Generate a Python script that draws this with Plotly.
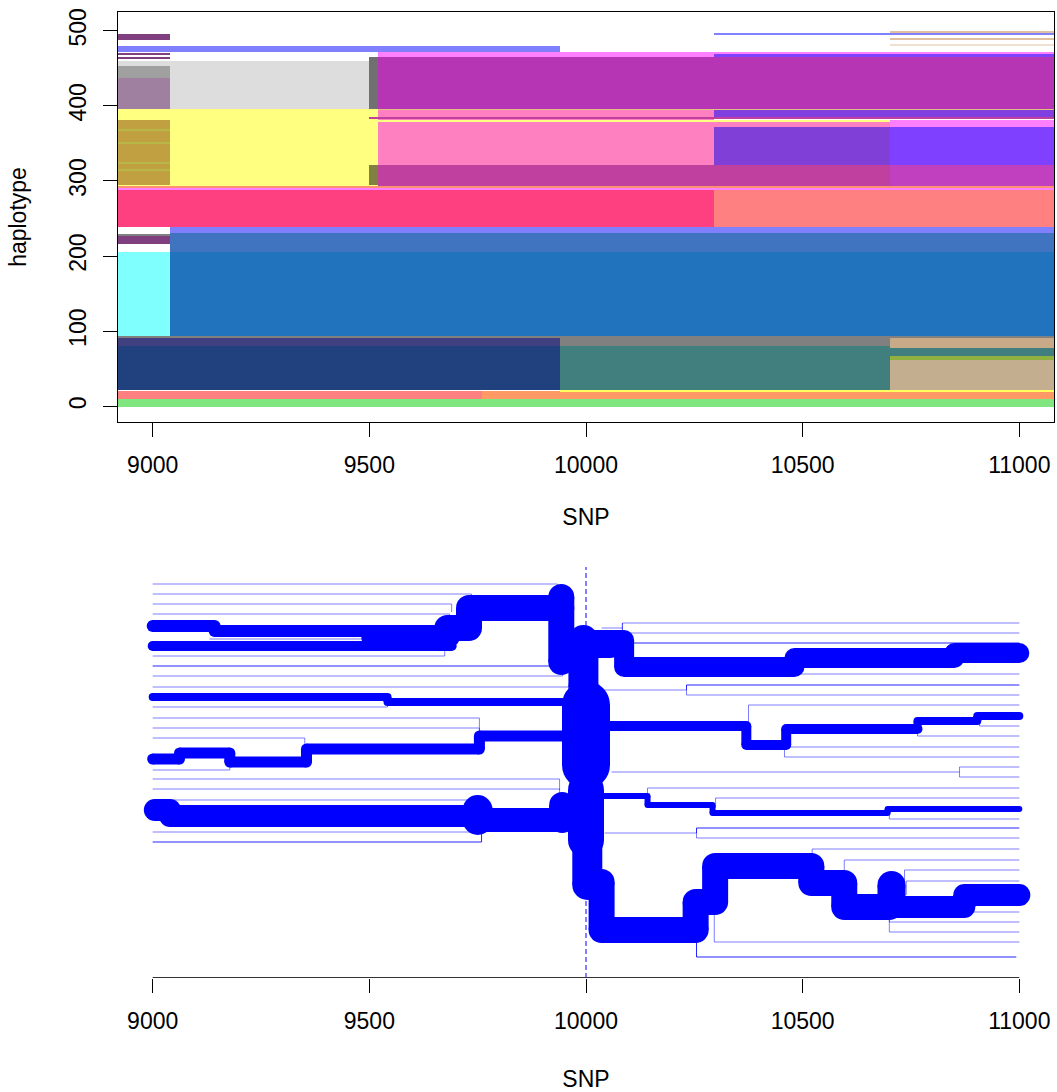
import plotly.graph_objects as go

# ---------------- top panel: haplotype painting (SNP range x haplotype range) -------------
L, R = 8920, 11080
rect_x0 = [L, L, 9760, 9940, L, L, 9940, 9940, 10702, 10702, 10702, 10702, L,
           L, 9040, 9040, 9040, L, L,
           L, 10296, L, L,
           L, L, L, L, L, L, 9500, 9520, 9520, 10702, 10296, 10702, 10296, 10702,
           9500, 9500, 10296, 9520,
           L, 9040, L, L, 9500, 9520, 9520, 10296, 10296,
           L, L, L, L, 10296, 10702, 10702, 10702]
rect_x1 = [R, 9760, R, R, 9940, 9940, 10702, 10702, R, R, R, R, R,
           9040, R, R, R, 9040, 9040,
           10296, R, R, R,
           9520, 9040, 9040, 9040, 9040, 9040, 9520, 10296, 10702, R, 10702, R, 10702, R,
           10702, R, R, R,
           9500, 9500, 9040, 9040, 9520, R, 10296, R, R,
           9940, 9040, 9040, 9040, R, R, R, R]
rect_y0 = [-1, 9.3, 9.3, 20, 21.3, 80, 21.3, 80, 21.3, 61, 67, 78, 92,
           93.5, 93.5, 205, 231, 216, 227,
           239, 239, 288, 291,
           293, 295, 314.5, 323.5, 350.5, 367.5, 295, 321, 293, 293, 321, 321, 372, 372,
           379.5, 383, 385, 395,
           396, 396, 396, 437, 396, 396, 465, 465, 470,
           472, 463.5, 469, 488, 495.5, 498, 488.5, 480]
rect_y1 = [9.3, 20, 20, 21.3, 80, 92, 80, 92, 61, 67, 78, 91, 93.5,
           205, 205, 231, 239, 227, 228.5,
           288, 288, 291, 293,
           396, 381, 316, 325, 352, 369, 321, 396, 321, 321, 372, 372, 381, 381,
           381, 385, 395, 396.5,
           460, 460, 437, 453, 465, 465, 472, 470, 472,
           480, 465, 470.5, 496, 497, 500, 490.5, 481.5]
rect_col = ['#80e680', '#ff8080', '#ff9966', '#ffff60', '#21407e', '#404080', '#417f7f', '#808080',
            '#c4ae90', '#90b040', '#417f7f', '#c8aa88', '#808080',
            '#80ffff', '#2173bd', '#4073c0', '#8080ff', '#804080', '#808080',
            '#ff4080', '#ff8080', '#ff80ff', '#ff9070',
            '#ffff80', '#c0a040', '#b8b848', '#b8b848', '#b8b848', '#b8b848', '#808040', '#ff80c0',
            '#c040a0', '#c040c0', '#8040d8', '#8040ff', '#ff80c0', '#ff80ff',
            '#ffff80', '#c040a0', '#8040e0', '#e0c080',
            '#dddddd', '#dddddd', '#a080a0', '#a0a0a0', '#707070', '#b535b5', '#ff80ff', '#8040ff', '#ff80ff',
            '#8080ff', '#804080', '#804080', '#804080', '#8080ff', '#e0c0a0', '#e0c0a0', '#f0e0d0']

# ---------------- bottom panel: bifurcation diagram (x = SNP, y = branch level) ----------
# thick shared branches: vertices and line width
path_x = [
    [9000, 9143, 9143, 9690], [9500, 9690], [9000, 9690],
    [9680, 9730, 9730, 9943], [9943, 9943],
    [9994, 9994], [10000, 10000], [10000, 10000], [10003, 10003],
    [9000, 9542, 9542, 9990],
    [9000, 9062, 9062, 9178, 9178, 9355, 9355, 9754, 9754, 9960],
    [9005, 9040, 9040, 9745], [9750, 9750], [9750, 9950], [9945, 9945],
    [10010, 10055], [10010, 10088, 10088, 10481, 10481, 10850, 10850, 11000],
    [10040, 10370, 10370, 10462, 10462, 10765], [10765, 10765, 10903, 10903, 11000],
    [10040, 10142, 10142, 10292, 10292, 10696, 10696, 11000],
    [10005, 10036, 10036, 10253, 10253, 10298, 10298, 10520, 10520, 10596, 10596, 10700],
    [10705, 10705], [10596, 10873, 10873, 11000], [10960, 11000],
]
path_y = [
    [354, 354, 349, 349], [342, 342], [334, 334],
    [352, 352, 372, 372], [383, 318],
    [340, 293], [275, 215], [190, 140], [140, 95],
    [283, 283, 278, 278],
    [221, 221, 227, 227, 218, 218, 231, 231, 244, 244],
    [170, 170, 164, 164], [170, 160], [160, 160], [175, 160],
    [336, 336], [340, 340, 313, 313, 322, 322, 327, 327],
    [254, 254, 235, 235, 251, 251], [251, 259, 259, 264, 264],
    [184, 184, 175, 175, 167, 167, 171, 171],
    [98, 98, 50, 50, 78, 78, 114, 114, 97, 97, 73, 73],
    [95, 78], [73, 73, 85, 85], [80, 80],
]
path_w = [12, 16, 10,
          26, 26,
          30, 48, 36, 30,
          8,
          11,
          22, 30, 24, 26,
          28, 20,
          10, 8,
          6,
          26,
          28, 22, 10]

# thin left branches: level, start SNP, end SNP, level joined at end
left_y = [396, 386, 376, 366, 341, 324, 314, 304, 293, 273, 262, 252, 242, 210, 201, 191, 180, 148, 138]
left_x0 = [9000, 9000, 9000, 9000, 9131, 9000, 9000, 9000, 9000, 9000, 9000, 9000, 9000, 9000, 9000,
           9000, 9000, 9000, 9000]
left_x1 = [9934, 9736, 9690, 9685, 9496, 9674, 9946, 9946, 9962, 9542, 9754, 9754, 9351, 9178, 9939,
           9939, 9731, 9759, 9759]
left_join = [383, 375, 368, 360, 334, 332, 320, 312, 290, 278, 244, 244, 232, 218, 190, 180, 168, 160, 160]
left_dark = [0, 0, 0, 0, 0, 0, 1, 0, 0, 0, 0, 0, 0, 0, 0, 0, 0, 0, 1]

# thin right branches: level, start SNP, end SNP, level joined at start
right_y = [357, 347, 352, 337, 306, 295, 285, 290, 275, 254, 244, 233, 223, 213, 203, 208, 192, 182,
           161, 152, 142, 147, 131, 120, 110, 99, 68, 58, 48, 38, 23]
right_x0 = [10084, 10084, 10036, 10084, 10481, 10232, 10232, 10031, 10375, 10908, 10765, 10462, 10458,
            10862, 10862, 10059, 10142, 10299, 10700, 10255, 10255, 10043, 10522, 10596, 10735, 10739,
            10862, 10700, 10700, 10296, 10255]
right_x1 = [11000, 11000, 10084, 11000, 11000, 11000, 11000, 10232, 11000, 11000, 11000, 11000, 11000,
            11000, 11000, 10862, 11000, 11000, 11000, 11000, 11000, 10255, 11000, 11000, 11000, 11000,
            11000, 11000, 11000, 11000, 10993]
right_join = [347, 357, 352, 335, 313, 290, 290, 290, 254, 259, 251, 235, 235, 208, 208, 208, 184, 172,
              167, 147, 147, 147, 114, 105, 100, 85, 75, 70, 70, 65, 50]
right_dark = [0, 0, 0, 1, 0, 1, 0, 0, 0, 0, 0, 0, 0, 0, 0, 0, 0, 0, 0, 1, 0, 0, 0, 0, 0, 0, 0, 0, 0, 0, 1]

core_snp = 10000
x_ticks = [9000, 9500, 10000, 10500, 11000]
x_ticktext = ["9000", "9500", "10000", "10500", "11000"]
y_ticks = [0, 100, 200, 300, 400, 500]
level_range = [2, 413]

FONT = dict(family="Liberation Sans, Arial, sans-serif", size=23, color="black")
BLUE = "#0000ff"

fig = go.Figure()

# top panel rectangles as horizontal bars
fig.add_trace(go.Bar(
    orientation="h",
    y=[(a + b) / 2 for a, b in zip(rect_y0, rect_y1)],
    x=[b - a for a, b in zip(rect_x0, rect_x1)],
    base=rect_x0,
    width=[b - a for a, b in zip(rect_y0, rect_y1)],
    marker=dict(color=rect_col, line=dict(width=0)),
    xaxis="x", yaxis="y", showlegend=False, hoverinfo="skip",
))

# bottom panel: dashed core line
fig.add_trace(go.Scatter(x=[core_snp, core_snp], y=level_range, mode="lines",
                         line=dict(color=BLUE, width=1, dash="5px,3px"),
                         xaxis="x2", yaxis="y2", showlegend=False, hoverinfo="skip"))

# bottom x axis line (from first to last tick)
fig.add_trace(go.Scatter(x=[x_ticks[0], x_ticks[-1]], y=[level_range[0] + 0.5] * 2, mode="lines",
                         line=dict(color="#333333", width=1),
                         xaxis="x2", yaxis="y2", showlegend=False, hoverinfo="skip"))


def thin_trace(ys, x0s, x1s, joins, darks, at_end, dark):
    xs, yy = [], []
    for y, a, b, j, d in zip(ys, x0s, x1s, joins, darks):
        if d != dark:
            continue
        xs += [a, b, None]
        yy += [y, y, None]
        xj = b if at_end else a
        xs += [xj, xj, None]
        yy += [y, j, None]
    col = "rgba(0,0,255,0.85)" if dark else "rgba(0,0,255,0.5)"
    return go.Scatter(x=xs, y=yy, mode="lines", line=dict(color=col, width=1),
                      xaxis="x2", yaxis="y2", showlegend=False, hoverinfo="skip")


for dk in (0, 1):
    fig.add_trace(thin_trace(left_y, left_x0, left_x1, left_join, left_dark, True, dk))
    fig.add_trace(thin_trace(right_y, right_x0, right_x1, right_join, right_dark, False, dk))

for px_, py_, w in zip(path_x, path_y, path_w):
    xs, ys = [], []
    for i in range(len(px_) - 1):
        xs += [px_[i], px_[i + 1], None]
        ys += [py_[i], py_[i + 1], None]
    fig.add_trace(go.Scatter(x=xs, y=ys, mode="lines", line=dict(color=BLUE, width=w),
                             xaxis="x2", yaxis="y2", showlegend=False, hoverinfo="skip"))
    fig.add_trace(go.Scatter(x=px_, y=py_, mode="markers",
                             marker=dict(color=BLUE, size=w, line=dict(width=0)),
                             xaxis="x2", yaxis="y2", showlegend=False, hoverinfo="skip"))

H = 966.0
fig.update_layout(
    width=1057, height=1092,
    margin=dict(l=118, r=3, t=12, b=114),
    paper_bgcolor="white", plot_bgcolor="white",
    barmode="overlay", bargap=0,
    font=FONT,
    xaxis=dict(domain=[0, 1], anchor="y", range=[L, R], tickvals=x_ticks, ticktext=x_ticktext,
               ticks="outside", ticklen=14, tickwidth=1, tickcolor="black", showgrid=False,
               zeroline=False, showline=True, mirror=True, linecolor="black", linewidth=1,
               tickfont=FONT, ticklabelstandoff=8, title=dict(text="SNP", font=FONT, standoff=32)),
    yaxis=dict(domain=[1 - 410 / H, 1], anchor="x", range=[-21, 525], tickvals=y_ticks,
               ticks="outside", ticklen=14, tickwidth=1, tickcolor="black", showgrid=False,
               zeroline=False, showline=True, mirror=True, linecolor="black", linewidth=1,
               tickangle=-90, tickfont=FONT, ticklabelstandoff=8,
               title=dict(text="haplotype", font=FONT, standoff=31)),
    xaxis2=dict(domain=[0, 1], anchor="y2", range=[L, R], tickvals=x_ticks, ticktext=x_ticktext,
                ticks="outside", ticklen=14, tickwidth=1, tickcolor="black", showgrid=False,
                zeroline=False, showline=False, tickfont=FONT, ticklabelstandoff=8,
                title=dict(text="SNP", font=FONT, standoff=38)),
    yaxis2=dict(domain=[0, 411 / H], anchor="x2", range=level_range, visible=False,
                showgrid=False, zeroline=False),
)

fig.write_html("out.html", config={"displayModeBar": False},
               post_script="document.body.style.margin='0';")
